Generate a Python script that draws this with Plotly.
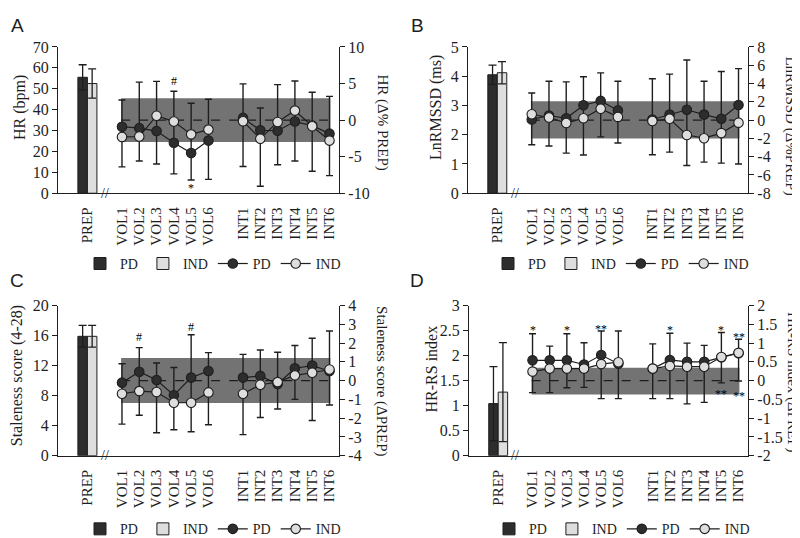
import plotly.graph_objects as go

# ---------------- data ----------------
prep_label = ["PREP"]
vol_labels = ["VOL1", "VOL2", "VOL3", "VOL4", "VOL5", "VOL6"]
int_labels = ["INT1", "INT2", "INT3", "INT4", "INT5", "INT6"]
groups = ["PD", "IND"]

# Panel A: HR
hr_prep_mean = [55.5, 52.5]
hr_prep_sd = [6.0, 7.0]
hr_pd = [-0.9, -1.1, -1.5, -3.1, -4.5, -2.8, 0.3, -1.4, -1.45, -0.2, -0.75, -1.85]
hr_ind = [-2.3, -2.25, 0.6, -0.2, -1.95, -1.3, -0.15, -2.55, -0.25, 1.3, -0.85, -2.8]
hr_err_hi = [2.75, 5.2, 5.3, 3.95, 2.3, 2.85, 4.95, 1.65, 4.85, 5.35, 3.8, 3.25]
hr_err_lo = [-6.4, -5.6, -6.0, -7.35, -8.2, -8.1, -6.35, -9.05, -6.1, -5.6, -7.0, -7.6]
hr_band = [-3.0, 3.0]
hr_sig = [("VOL4", 5.35, "#"), ("VOL5", -9.25, "*")]

# Panel B: LnRMSSD
rm_prep_mean = [4.05, 4.12]
rm_prep_sd = [0.33, 0.38]
rm_pd = [0.07, 0.5, 0.2, 1.63, 2.1, 1.06, 0.07, 0.6, 1.13, 0.6, 0.14, 1.66]
rm_ind = [0.64, 0.28, -0.32, 0.21, 1.24, 0.35, -0.1, 0.14, -1.63, -1.98, -1.42, -0.28]
rm_err_hi = [2.97, 4.25, 4.18, 4.74, 5.17, 4.25, 4.53, 5.03, 6.58, 4.25, 5.31, 5.63]
rm_err_lo = [-2.69, -2.83, -3.61, -3.82, -1.84, -2.51, -3.79, -3.5, -4.96, -4.6, -4.71, -4.81]
rm_band = [-2.0, 2.05]
rm_sig = []

# Panel C: Staleness score
st_prep_mean = [15.9, 15.9]
st_prep_sd = [1.45, 1.45]
st_pd = [-0.11, 0.47, 0.03, -0.78, 0.16, 0.51, 0.16, 0.25, -0.18, 0.66, 0.8, 0.51]
st_ind = [-0.7, -0.56, -0.61, -1.18, -1.18, -0.63, -0.7, -0.22, -0.08, 0.28, 0.42, 0.59]
st_err_hi = [0.9, 1.76, 0.94, 0.7, 2.44, 1.49, 1.4, 1.63, 1.51, 1.87, 2.26, 2.64]
st_err_lo = [-2.32, -1.85, -2.78, -2.62, -2.73, -2.35, -2.88, -1.97, -1.51, -1.0, -2.13, -1.3]
st_band = [-1.2, 1.2]
st_sig = [("VOL2", 2.3, "#"), ("VOL5", 2.87, "#")]

# Panel D: HR-RS index
rs_prep_mean = [1.04, 1.27]
rs_prep_sd = [0.74, 0.99]
rs_pd = [0.54, 0.54, 0.54, 0.43, 0.68, 0.45, 0.32, 0.55, 0.5, 0.5, 0.62, 0.73]
rs_ind = [0.24, 0.32, 0.32, 0.32, 0.44, 0.49, 0.32, 0.39, 0.37, 0.37, 0.63, 0.74]
rs_err_hi = [1.25, 0.92, 1.25, 1.01, 1.32, 1.32, 0.98, 1.26, 1.0, 0.94, 1.28, 1.1]
rs_err_lo = [-0.32, -0.32, -0.19, -0.18, -0.48, -0.48, -0.48, -0.48, -0.62, -0.58, -0.06, -0.01]
rs_band = [-0.37, 0.34]
rs_sig = [("VOL1", 1.35, "*"), ("VOL3", 1.35, "*"), ("VOL5", 1.37, "**"),
          ("INT2", 1.35, "*"), ("INT5", 1.35, "*"), ("INT6", 1.17, "**"),
          ("INT5", -0.35, "**"), ("INT6", -0.40, "**")]

# axis tick definitions
hr_left_ticks = [0, 10, 20, 30, 40, 50, 60, 70]
hr_right_ticks = [-10, -5, 0, 5, 10]
rm_left_ticks = [0, 1, 2, 3, 4, 5]
rm_right_ticks = [-8, -6, -4, -2, 0, 2, 4, 6, 8]
st_left_ticks = [0, 4, 8, 12, 16, 20]
st_right_ticks = [-4, -3, -2, -1, 0, 1, 2, 3, 4]
rs_left_ticks = [0, 0.5, 1, 1.5, 2, 2.5, 3]
rs_right_ticks = [-2, -1.5, -1, -0.5, 0, 0.5, 1, 1.5, 2]

# ---------------- styling / layout ----------------
SERIF = "Liberation Serif"
SANS = "Liberation Sans"
INK = "#1e1e1e"
DARK = "#2d2d2d"
LIGHT = "#dedede"
BAND = "#737373"
W, H = 800, 538


def slot(label):
    if label == "PREP":
        return 0
    if label.startswith("VOL"):
        return 1 + int(label[3:])
    return 8 + int(label[3:])


def fmt(v):
    return "%g" % v


panels = [
    dict(letter="A", prep=hr_prep_mean, sd=hr_prep_sd, pd=hr_pd, ind=hr_ind,
         hi=hr_err_hi, lo=hr_err_lo, band=hr_band, sig=hr_sig,
         lt=hr_left_ticks, rt=hr_right_ticks,
         ltitle="HR (bpm)", rtitle="HR (Δ% PREP)",
         xdom=[50, 331], ydom=[32, 183], letter_xy=(9, 10),
         ltitle_xy=(12, 95), rtitle_xy=(374, 110), legend_xy=(205, 256)),
    dict(letter="B", prep=rm_prep_mean, sd=rm_prep_sd, pd=rm_pd, ind=rm_ind,
         hi=rm_err_hi, lo=rm_err_lo, band=rm_band, sig=rm_sig,
         lt=rm_left_ticks, rt=rm_right_ticks,
         ltitle="LnRMSSD (ms)", rtitle="LnRMSSD (Δ%PREP)",
         xdom=[460, 740], ydom=[32, 183], letter_xy=(410, 10),
         ltitle_xy=(428, 95), rtitle_xy=(783, 113), legend_xy=(613, 256)),
    dict(letter="C", prep=st_prep_mean, sd=st_prep_sd, pd=st_pd, ind=st_ind,
         hi=st_err_hi, lo=st_err_lo, band=st_band, sig=st_sig,
         lt=st_left_ticks, rt=st_right_ticks,
         ltitle="Staleness score (4-28)", rtitle="Staleness score (ΔPREP)",
         xdom=[50, 331], ydom=[299, 454], letter_xy=(9, 273),
         ltitle_xy=(9, 372), rtitle_xy=(374, 377), legend_xy=(205, 530)),
    dict(letter="D", prep=rs_prep_mean, sd=rs_prep_sd, pd=rs_pd, ind=rs_ind,
         hi=rs_err_hi, lo=rs_err_lo, band=rs_band, sig=rs_sig,
         lt=rs_left_ticks, rt=rs_right_ticks,
         ltitle="HR-RS index", rtitle="HR-RS index (ΔPREP)",
         xdom=[461, 740], ydom=[299, 454], letter_xy=(409, 273),
         ltitle_xy=(423, 365), rtitle_xy=(785, 378), legend_xy=(614, 530)),
]

fig = go.Figure()
layout = dict(width=W, height=H, margin=dict(l=0, r=0, t=0, b=0),
              paper_bgcolor="white", plot_bgcolor="rgba(0,0,0,0)",
              showlegend=True, barmode="overlay")
shapes, annotations = [], []

series_labels = vol_labels + int_labels
x_all = [slot(c) for c in series_labels]
x_line = [slot(c) for c in vol_labels] + [None] + [slot(c) for c in int_labels]

for i, p in enumerate(panels):
    xa = "x" if i == 0 else f"x{i + 1}"
    yl = "y" if i == 0 else f"y{2 * i + 1}"
    yr = f"y{2 * i + 2}"
    leg = "legend" if i == 0 else f"legend{i + 1}"
    xkey = "xaxis" if i == 0 else f"xaxis{i + 1}"
    ylkey = "yaxis" if i == 0 else f"yaxis{2 * i + 1}"
    yrkey = f"yaxis{2 * i + 2}"

    # PREP bars
    for g, (name, col) in enumerate(zip(groups, [DARK, LIGHT])):
        fig.add_trace(go.Bar(
            x=[slot(prep_label[0])], y=[p["prep"][g]], name=name,
            width=0.55, offset=-0.55 if g == 0 else 0.0,
            marker=dict(color=col, line=dict(color=INK, width=1)),
            error_y=dict(type="data", array=[p["sd"][g]], visible=True,
                         color=INK, thickness=1.3, width=4),
            xaxis=xa, yaxis=yl, legend=leg, showlegend=True))

    # error bars (span of both groups)
    pd_vals = p["pd"]
    fig.add_trace(go.Scatter(
        x=x_all, y=pd_vals, mode="markers",
        marker=dict(size=1, color="rgba(0,0,0,0)"),
        error_y=dict(type="data", symmetric=False,
                     array=[h - v for h, v in zip(p["hi"], pd_vals)],
                     arrayminus=[v - l for l, v in zip(p["lo"], pd_vals)],
                     color=INK, thickness=1.4, width=3.5),
        xaxis=xa, yaxis=yr, showlegend=False, hoverinfo="skip"))

    for name, vals, fill in [("PD", p["pd"], DARK), ("IND", p["ind"], LIGHT)]:
        y_line = vals[:6] + [None] + vals[6:]
        fig.add_trace(go.Scatter(
            x=x_line, y=y_line, mode="lines+markers", name=name,
            line=dict(color=INK, width=1.2),
            marker=dict(size=9.5, color=fill, line=dict(color=INK, width=1.1)),
            connectgaps=False, xaxis=xa, yaxis=yr, legend=leg))

    xd = [p["xdom"][0] / W, p["xdom"][1] / W]
    yd = [1 - p["ydom"][1] / H, 1 - p["ydom"][0] / H]
    tick_x = [slot(c) for c in prep_label + series_labels]
    layout[xkey] = dict(domain=xd, range=[-1.7, 14.55], anchor=yl,
                        tickmode="array", tickvals=tick_x,
                        ticktext=prep_label + series_labels, tickangle=-90,
                        ticks="", showline=True, linecolor=INK, linewidth=1.3,
                        showgrid=False, zeroline=False, ticklabelstandoff=7,
                        tickfont=dict(family=SERIF, size=15, color=INK))
    layout[ylkey] = dict(domain=yd, range=[p["lt"][0], p["lt"][-1]], anchor=xa,
                         tickmode="array", tickvals=p["lt"],
                         ticktext=[fmt(v) for v in p["lt"]],
                         ticks="outside", ticklen=5, tickwidth=1.3,
                         tickcolor=INK, showline=True, linecolor=INK,
                         linewidth=1.3, showgrid=False, zeroline=False,
                         tickfont=dict(family=SERIF, size=16, color=INK))
    layout[yrkey] = dict(overlaying=yl, side="right", anchor=xa,
                         range=[p["rt"][0], p["rt"][-1]],
                         tickmode="array", tickvals=p["rt"],
                         ticktext=[fmt(v) for v in p["rt"]],
                         ticks="outside", ticklen=5, tickwidth=1.3,
                         tickcolor=INK, showline=True, linecolor=INK,
                         linewidth=1.3, showgrid=False, zeroline=False,
                         tickfont=dict(family=SERIF, size=16, color=INK))

    # band and dashed zero line
    shapes.append(dict(type="rect", xref=xa, yref=yr, x0=1.95, x1=14.05,
                       y0=p["band"][0], y1=p["band"][1], fillcolor=BAND,
                       line=dict(width=0), layer="below"))
    shapes.append(dict(type="line", xref=xa, yref=yr, x0=1.95, x1=14.05,
                       y0=0, y1=0, line=dict(color=INK, width=1.4, dash="dash"),
                       layer="below"))

    # axis break mark
    annotations.append(dict(text="//", xref=xa, yref=yl, x=1, y=p["lt"][0],
                            showarrow=False, xanchor="center", yanchor="middle",
                            font=dict(family=SERIF, size=14, color=INK)))

    # significance markers
    for lab, yv, txt in p["sig"]:
        annotations.append(dict(text=txt, xref=xa, yref=yr, x=slot(lab), y=yv,
                                showarrow=False, xanchor="center",
                                yanchor="middle",
                                font=dict(family=SERIF, size=12, color="#000000")))

    # panel letter
    lx, ly = p["letter_xy"]
    annotations.append(dict(text=p["letter"], xref="paper", yref="paper",
                            x=lx / W, y=1 - ly / H, showarrow=False,
                            xanchor="center", yanchor="middle",
                            font=dict(family=SANS, size=19, color=INK)))
    # axis titles
    tx, ty = p["ltitle_xy"]
    annotations.append(dict(text=p["ltitle"], xref="paper", yref="paper",
                            x=tx / W, y=1 - ty / H, showarrow=False,
                            textangle=-90, xanchor="center", yanchor="middle",
                            font=dict(family=SERIF, size=16, color=INK)))
    tx, ty = p["rtitle_xy"]
    annotations.append(dict(text=p["rtitle"], xref="paper", yref="paper",
                            x=tx / W, y=1 - ty / H, showarrow=False,
                            textangle=90, xanchor="center", yanchor="middle",
                            font=dict(family=SERIF, size=15, color=INK)))

    gx, gy = p["legend_xy"]
    layout[leg] = dict(orientation="h", x=gx / W, y=1 - gy / H,
                       xanchor="center", yanchor="middle",
                       bgcolor="rgba(0,0,0,0)", itemwidth=30,
                       font=dict(family=SERIF, size=14, color=INK),
                       tracegroupgap=0, itemclick=False)

layout["shapes"] = shapes
layout["annotations"] = annotations
fig.update_layout(**layout)
fig.write_html("out.html")
